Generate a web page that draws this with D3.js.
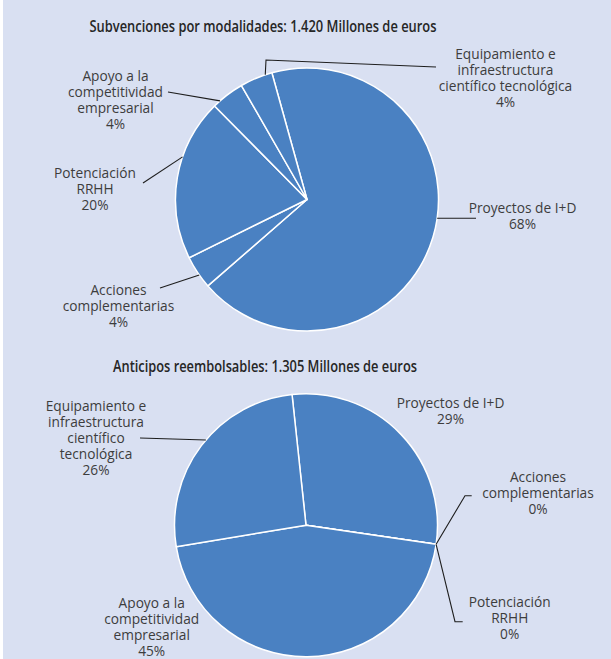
<!DOCTYPE html>
<html><head><meta charset="utf-8">
<script src="https://cdn.jsdelivr.net/npm/d3@7"></script>
<style>
html,body{margin:0;padding:0;background:#fff;}
svg{display:block;}
text{font-family:"Open Sans","Noto Sans",sans-serif;fill:#3d3d3d;}
</style></head>
<body>
<svg id="c" width="611" height="659"></svg>
<script>
// ---------- DATA ----------
const categories = ["Proyectos de I+D","Acciones complementarias","Potenciación RRHH","Apoyo a la competitividad empresarial","Equipamiento e infraestructura científico tecnológica"];
const subvencionesValues = [67.9, 4.1, 19.9, 4.1, 4.0];   // % of 1.420 M€
const anticiposValues    = [29.0, 0.0, 0.0, 45.1, 25.9];  // % of 1.305 M€
const titles = ["Subvenciones por modalidades: 1.420 Millones de euros","Anticipos reembolsables: 1.305 Millones de euros"];
const labelLinesTop = [["Proyectos de I+D"],["Acciones","complementarias"],["Potenciación","RRHH"],["Apoyo a la","competitividad","empresarial"],["Equipamiento e","infraestructura","científico tecnológica"]];
const labelLinesBottom = [["Proyectos de I+D"],["Acciones","complementarias"],["Potenciación","RRHH"],["Apoyo a la","competitividad","empresarial"],["Equipamiento e","infraestructura","científico","tecnológica"]];

// ---------- LAYOUT ----------
const W = 611, H = 659;
const R = 131.5;
const deg = Math.PI/180;
const charts = [
  { values: subvencionesValues, lines: labelLinesTop, title: titles[0], titleX: 263, titleY: 32, titleW: 347,
    cx: 307, cy: 199.5, start: -15.5,
    labels: [
      {x:522.5, y:212.5, leader:{a:98.2, pts:[[476,218.3]]}},
      {x:118.5, y:295,   leader:{a:235,  pts:[[160,288]]}},
      {x:95,    y:177.5, leader:{a:288.9,pts:[[143,183]]}},
      {x:115.5, y:80.5,  leader:{a:318.6,pts:[[168,92]]}},
      {x:505.5, y:58.5,  leader:{a:341.5,pts:[[266,60],[436,67]]}}
    ]},
  { values: anticiposValues, lines: labelLinesBottom, title: titles[1], titleX: 265, titleY: 372, titleW: 304,
    cx: 306, cy: 525.3, start: -6.1,
    labels: [
      {x:450.5, y:408.3, leader:null},
      {x:538,   y:482,   leader:{a:"slice", pts:[[465,495.7],[471.7,495.7]]}},
      {x:509.7, y:606.7, leader:{a:"slice", pts:[[455,621.7],[462.7,621.7]]}},
      {x:151.7, y:607.7, leader:null},
      {x:96,    y:410.7, leader:{a:310.4,pts:[[140,438]]}}
    ]}
];
const lineH = 16;

const svg = d3.select("#c");
svg.append("rect").attr("x",0).attr("y",0).attr("width",W).attr("height",H).attr("fill","#ffffff");
svg.append("rect").attr("x",3).attr("y",0).attr("width",W-3).attr("height",H).attr("fill","#d9e0f2");

function measure(str, size, weight){
  const t = svg.append("text").style("font-size",size+"px").style("font-weight",weight).text(str);
  const w = t.node().getComputedTextLength(); t.remove(); return w;
}
const labelSize = Math.min(14.5, 13 * 95 / measure("competitividad", 13, 400));
const titleSize = 16.5;

const fmt = d3.format(".0%");

charts.forEach(ch => {
  const total = d3.sum(ch.values);
  const pie = d3.pie().sort(null).value(d=>d)
    .startAngle(ch.start*deg).endAngle(ch.start*deg + 2*Math.PI);
  const arcs = pie(ch.values);
  const arc = d3.arc().innerRadius(0).outerRadius(R);
  const g = svg.append("g").attr("transform",`translate(${ch.cx},${ch.cy})`);

  svg.append("text").attr("x",ch.titleX).attr("y",ch.titleY)
    .attr("text-anchor","middle").style("font-size",titleSize+"px").style("font-weight",600)
    .attr("textLength", ch.titleW).attr("lengthAdjust","spacingAndGlyphs")
    .style("fill","#262626").text(ch.title);

  g.selectAll("path.s").data(arcs).join("path").attr("class","s")
    .attr("d",arc).attr("fill","#4a81c2").attr("stroke","#ffffff").attr("stroke-width",1.5)
    .attr("stroke-linejoin","round");

  ch.labels.forEach((lb,i) => {
    if(!lb.leader) return;
    const ang = lb.leader.a === "slice" ? arcs[i].startAngle : lb.leader.a*deg;
    const p0 = [ch.cx + R*Math.sin(ang), ch.cy - R*Math.cos(ang)];
    const pts = [p0].concat(lb.leader.pts);
    svg.append("path").attr("d", d3.line()(pts)).attr("fill","none")
      .attr("stroke","#1e1e1e").attr("stroke-width",1.1);
  });

  ch.labels.forEach((lb,i) => {
    const lines = ch.lines[i].concat([fmt(ch.values[i]/total)]);
    const t = svg.append("text").attr("text-anchor","middle").style("font-size",labelSize+"px");
    lines.forEach((s,k) => t.append("tspan").attr("x",lb.x).attr("y",lb.y + k*lineH).text(s));
  });
});
</script>
</body></html>
